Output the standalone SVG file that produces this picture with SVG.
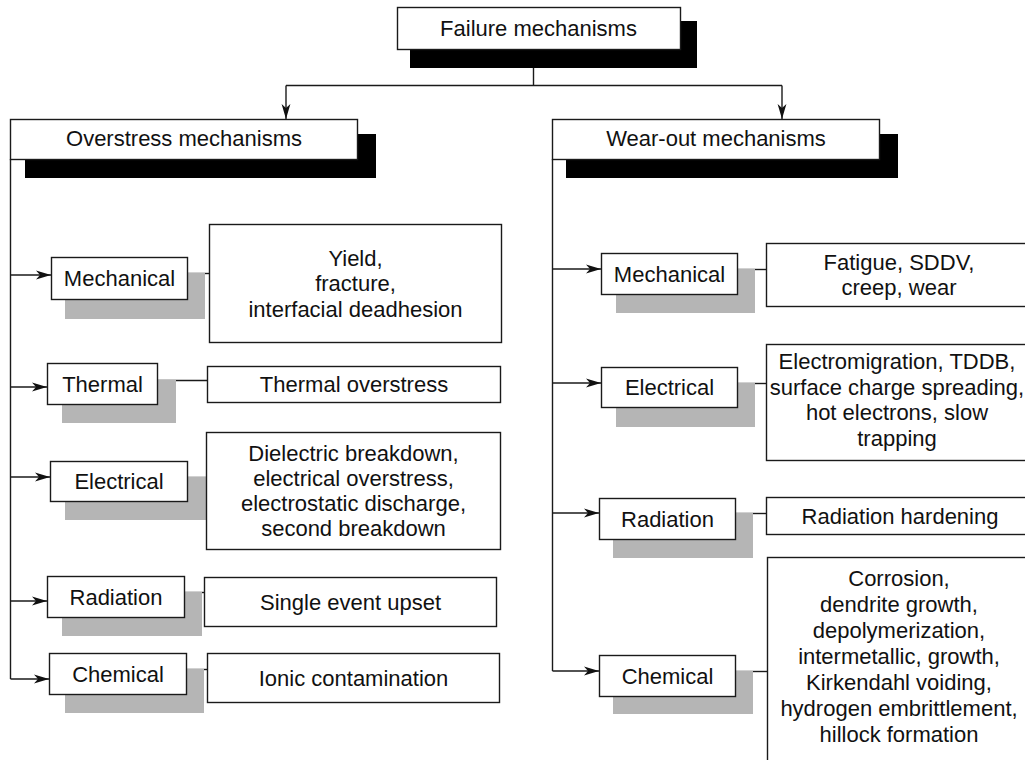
<svg xmlns="http://www.w3.org/2000/svg" width="1025" height="760" viewBox="0 0 1025 760">
  <defs>
    <style>
      .box { fill: #ffffff; stroke: #1a1a1a; stroke-width: 1.4; }
      .dark { fill: #000000; }
      .grey { fill: #b5b5b5; }
      .wire { fill: none; stroke: #1a1a1a; stroke-width: 1.4; }
      text { font-family: "Liberation Sans", Arial, Helvetica, sans-serif; font-size: 22px; fill: #111111; text-anchor: middle; }
    </style>
    <marker id="arrow" markerUnits="userSpaceOnUse" markerWidth="16" markerHeight="10" refX="15" refY="5" orient="auto">
      <path d="M0,0.6 L15,5 L0,9.4 L4,5 Z" fill="#111111"/>
    </marker>
  </defs>

  <!-- root -->
  <g id="failure-mechanisms">
    <rect class="dark" x="410" y="21" width="287" height="47"/>
    <rect class="box" x="397.5" y="7.5" width="283" height="42"/>
    <text x="538.5" y="36">Failure mechanisms</text>
  </g>

  <!-- branch headers -->
  <g id="overstress-mechanisms">
    <rect class="dark" x="25" y="134" width="351" height="44"/>
    <rect class="box" x="10.5" y="119.5" width="347" height="40"/>
    <text x="184" y="146">Overstress mechanisms</text>
  </g>
  <g id="wearout-mechanisms">
    <rect class="dark" x="566" y="134" width="332" height="44"/>
    <rect class="box" x="552.5" y="119.5" width="327" height="40"/>
    <text x="716" y="146">Wear-out mechanisms</text>
  </g>

  <!-- connectors -->
  <g id="connectors">
    <path class="wire" d="M533.5,68 V85.5 M286,85.5 H782"/>
    <path class="wire" d="M286,85.5 V119" marker-end="url(#arrow)"/>
    <path class="wire" d="M782,85.5 V119" marker-end="url(#arrow)"/>

    <!-- overstress trunk -->
    <path class="wire" d="M10.5,159 V679"/>
    <path class="wire" d="M10.5,275 H51" marker-end="url(#arrow)"/>
    <path class="wire" d="M10.5,387 H47" marker-end="url(#arrow)"/>
    <path class="wire" d="M10.5,477 H50" marker-end="url(#arrow)"/>
    <path class="wire" d="M10.5,601 H47" marker-end="url(#arrow)"/>
    <path class="wire" d="M10.5,679 H49" marker-end="url(#arrow)"/>

    <!-- wear-out trunk -->
    <path class="wire" d="M552.5,159 V671"/>
    <path class="wire" d="M552.5,269 H601" marker-end="url(#arrow)"/>
    <path class="wire" d="M552.5,383 H601" marker-end="url(#arrow)"/>
    <path class="wire" d="M552.5,513 H599" marker-end="url(#arrow)"/>
    <path class="wire" d="M552.5,671 H599" marker-end="url(#arrow)"/>

    <!-- category to effect links -->
    <path class="wire" d="M187,273.5 H209"/>
    <path class="wire" d="M157,380.5 H207"/>
    <path class="wire" d="M187,477.5 H206"/>
    <path class="wire" d="M184,592.5 H204"/>
    <path class="wire" d="M186,669.5 H207"/>
    <path class="wire" d="M737,269.5 H766"/>
    <path class="wire" d="M737,383.5 H766"/>
    <path class="wire" d="M735,513.5 H766"/>
    <path class="wire" d="M735,671.5 H767"/>
  </g>

  <!-- overstress categories -->
  <g id="os-mechanical">
    <rect class="grey" x="65" y="273" width="140" height="46"/>
    <rect class="box" x="51.5" y="257.5" width="136" height="42"/>
    <text x="119.5" y="286">Mechanical</text>
  </g>
  <g id="os-mechanical-effects">
    <rect class="box" x="209.5" y="224.5" width="292" height="118"/>
    <text x="355.5" y="265.5">Yield,</text>
    <text x="355.5" y="291">fracture,</text>
    <text x="355.5" y="316.5">interfacial deadhesion</text>
  </g>

  <g id="os-thermal">
    <rect class="grey" x="62" y="380" width="114" height="43"/>
    <rect class="box" x="47.5" y="363.5" width="110" height="41"/>
    <text x="102.5" y="391.5">Thermal</text>
  </g>
  <g id="os-thermal-effects">
    <rect class="box" x="207.5" y="366.5" width="293" height="36"/>
    <text x="354" y="392">Thermal overstress</text>
  </g>

  <g id="os-electrical">
    <rect class="grey" x="65" y="477" width="141" height="43"/>
    <rect class="box" x="50.5" y="461.5" width="137" height="40"/>
    <text x="119" y="489">Electrical</text>
  </g>
  <g id="os-electrical-effects">
    <rect class="box" x="206.5" y="432.5" width="294" height="117"/>
    <text x="353.5" y="461">Dielectric breakdown,</text>
    <text x="353.5" y="486">electrical overstress,</text>
    <text x="353.5" y="511">electrostatic discharge,</text>
    <text x="353.5" y="536">second breakdown</text>
  </g>

  <g id="os-radiation">
    <rect class="grey" x="62" y="592" width="140" height="44"/>
    <rect class="box" x="47.5" y="576.5" width="137" height="41"/>
    <text x="116" y="604.5">Radiation</text>
  </g>
  <g id="os-radiation-effects">
    <rect class="box" x="204.5" y="577.5" width="292" height="49"/>
    <text x="350.5" y="609.5">Single event upset</text>
  </g>

  <g id="os-chemical">
    <rect class="grey" x="65" y="669" width="139" height="44"/>
    <rect class="box" x="49.5" y="653.5" width="137" height="41"/>
    <text x="118" y="681.5">Chemical</text>
  </g>
  <g id="os-chemical-effects">
    <rect class="box" x="207.5" y="653.5" width="292" height="49"/>
    <text x="353.5" y="685.5">Ionic contamination</text>
  </g>

  <!-- wear-out categories -->
  <g id="wo-mechanical">
    <rect class="grey" x="616" y="269" width="139" height="44"/>
    <rect class="box" x="601.5" y="253.5" width="136" height="41"/>
    <text x="669.5" y="281.5">Mechanical</text>
  </g>
  <g id="wo-mechanical-effects">
    <rect class="box" x="766.5" y="243.5" width="270" height="63"/>
    <text x="899" y="270">Fatigue, SDDV,</text>
    <text x="899" y="295">creep, wear</text>
  </g>

  <g id="wo-electrical">
    <rect class="grey" x="616" y="383" width="139" height="44"/>
    <rect class="box" x="601.5" y="367.5" width="136" height="40"/>
    <text x="669.5" y="395">Electrical</text>
  </g>
  <g id="wo-electrical-effects">
    <rect class="box" x="766.5" y="344.5" width="270" height="116"/>
    <text x="897" y="369">Electromigration, TDDB,</text>
    <text x="897" y="394.5">surface charge spreading,</text>
    <text x="897" y="420">hot electrons, slow</text>
    <text x="897" y="445.5">trapping</text>
  </g>

  <g id="wo-radiation">
    <rect class="grey" x="613" y="513" width="140" height="45"/>
    <rect class="box" x="599.5" y="498.5" width="136" height="41"/>
    <text x="667.5" y="526.5">Radiation</text>
  </g>
  <g id="wo-radiation-effects">
    <rect class="box" x="766.5" y="497.5" width="270" height="37"/>
    <text x="900" y="523.5">Radiation hardening</text>
  </g>

  <g id="wo-chemical">
    <rect class="grey" x="613" y="671" width="140" height="43"/>
    <rect class="box" x="599.5" y="655.5" width="136" height="41"/>
    <text x="667.5" y="683.5">Chemical</text>
  </g>
  <g id="wo-chemical-effects">
    <rect class="box" x="767.5" y="557.5" width="270" height="220"/>
    <text x="899" y="586">Corrosion,</text>
    <text x="899" y="612">dendrite growth,</text>
    <text x="899" y="638">depolymerization,</text>
    <text x="899" y="664">intermetallic, growth,</text>
    <text x="899" y="690">Kirkendahl voiding,</text>
    <text x="899" y="716">hydrogen embrittlement,</text>
    <text x="899" y="742">hillock formation</text>
  </g>
</svg>
